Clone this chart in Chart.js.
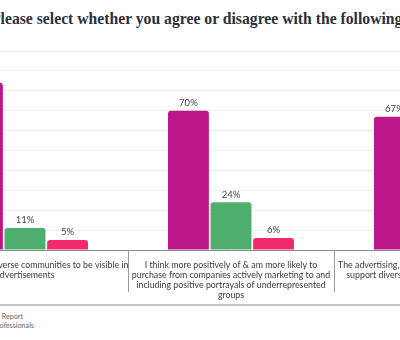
<!DOCTYPE html>
<html>
<head>
<meta charset="utf-8">
<script src="https://cdn.jsdelivr.net/npm/chart.js@4.4.0/dist/chart.umd.min.js"></script>
<style>
  html, body { margin: 0; padding: 0; background: #fff; overflow: hidden; width: 400px; height: 340px; }
  #title {
    position: absolute; left: -9px; top: 10px; white-space: nowrap;
    font-family: "Liberation Serif", serif; font-weight: bold; font-size: 15.7px; color: #2b303b;
  }
  #chartBox { position: absolute; left: -100px; top: 40px; }
  #rule { position: absolute; left: 0; top: 304px; width: 400px; height: 0; border-top: 2px solid #c4c4c4; }
  .src {
    position: absolute; text-align: right; white-space: nowrap;
    font-family: "Lato", sans-serif; font-size: 7.2px; line-height: 9px; color: #666;
  }
  #src1 { right: 377px; top: 312px; }
  #src2 { right: 366px; top: 321px; }
</style>
</head>
<body>
<div id="title">Please select whether you agree or disagree with the following statements:</div>
<div id="chartBox"><canvas id="myChart" width="660" height="260"></canvas></div>
<div id="rule"></div>
<div id="src1" class="src">Source: Diversity in Advertising Report</div>
<div id="src2" class="src">Base: 500 marketing professionals</div>
<script>
const categories = [
  ['It is important for diverse communities to be visible in', 'advertisements'],
  ['I think more positively of & am more likely to', 'purchase from companies actively marketing to and', 'including positive portrayals of underrepresented', 'groups'],
  ['The advertising, marketing & media industry should', 'support diverse communities more than it does']
];
const agree = [84, 70, 67];
const disagree = [11, 24, 25];
const unsure = [5, 6, 8];
const yTicks = [0, 10, 20, 30, 40, 50, 60, 70, 80, 90, 100];

const labelFont = 'Lato, sans-serif';

// value labels above each bar
const barLabels = {
  id: 'barLabels',
  afterDatasetsDraw(chart) {
    const ctx = chart.ctx;
    ctx.save();
    ctx.font = '9.5px ' + labelFont;
    ctx.fillStyle = '#444';
    ctx.textAlign = 'center';
    ctx.textBaseline = 'bottom';
    chart.data.datasets.forEach((ds, i) => {
      chart.getDatasetMeta(i).data.forEach((bar, j) => {
        ctx.fillText(ds.data[j] + '%', bar.x, bar.y - 3);
      });
    });
    ctx.restore();
  }
};

// vertical separators between categories, below the axis
const dividers = {
  id: 'dividers',
  afterDraw(chart) {
    const x = chart.scales.x;
    const ctx = chart.ctx;
    ctx.save();
    ctx.strokeStyle = '#9a9a9a';
    ctx.lineWidth = 1;
    for (let i = 0; i <= categories.length; i++) {
      const px = Math.round(x.getPixelForValue(i - 0.5)) + 0.5;
      ctx.beginPath();
      ctx.moveTo(px, chart.chartArea.bottom);
      ctx.lineTo(px, chart.chartArea.bottom + 42);
      ctx.stroke();
    }
    ctx.restore();
  }
};

new Chart(document.getElementById('myChart'), {
  type: 'bar',
  data: {
    labels: categories,
    datasets: [
      { label: 'Agree', data: agree, backgroundColor: '#bd158a' },
      { label: 'Disagree', data: disagree, backgroundColor: '#4dae6e' },
      { label: "Don't know", data: unsure, backgroundColor: '#f12a6f' }
    ]
  },
  options: {
    responsive: false,
    animation: false,
    categoryPercentage: 0.62,
    barPercentage: 0.96,
    borderRadius: 3,
    layout: { padding: { left: 22, right: 20, top: 11, bottom: 0 } },
    plugins: { legend: { display: false }, tooltip: { enabled: false } },
    scales: {
      x: {
        grid: { display: false },
        border: { display: true, color: '#8c8c8c', width: 1 },
        ticks: {
          padding: 2,
          maxRotation: 0,
          autoSkip: false,
          color: '#3a3a3a',
          font: { family: labelFont, size: 8.8, lineHeight: 1.14 }
        },
        afterFit: s => { s.height = 50; }
      },
      y: {
        min: 0,
        max: 100,
        afterBuildTicks: s => { s.ticks = yTicks.map(v => ({ value: v })); },
        ticks: { display: false },
        grid: { color: '#ececec', drawTicks: false },
        border: { display: false }
      }
    }
  },
  plugins: [barLabels, dividers]
});
</script>
</body>
</html>
